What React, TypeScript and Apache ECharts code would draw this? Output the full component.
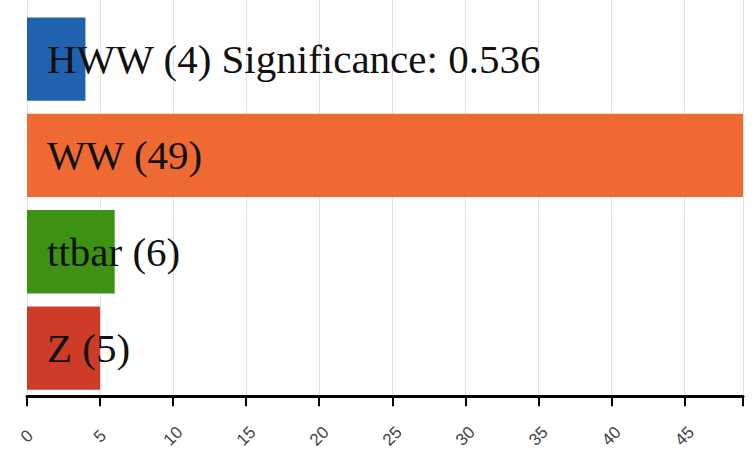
import React, { useEffect, useRef } from "react";
import * as echarts from "echarts";

const categories = ["HWW", "WW", "ttbar", "Z"];
const values = [4, 49, 6, 5];
const colors = ["#2062b0", "#ee6a32", "#3d9214", "#cf3b29"];
const significance = "0.536";
const xTicks = [0, 5, 10, 15, 20, 25, 30, 35, 40, 45];
const xMax = 49;

export default function App() {
  const ref = useRef<HTMLDivElement>(null);
  useEffect(() => {
    if (!ref.current) return;
    const chart = echarts.init(ref.current, null, { renderer: "svg" });
    const labelSet = new Set(xTicks.map(String));
    chart.setOption({
      animation: false,
      grid: [
        { left: 27, right: 10, top: 0, bottom: 54 },
        { left: 27, right: 10, top: 11, bottom: 54 },
      ],
      xAxis: [
        {
          gridIndex: 0,
          type: "value",
          min: 0,
          max: xMax,
          interval: 5,
          axisLine: { show: false },
          axisTick: { show: false },
          axisLabel: { show: false },
          splitLine: { show: true, lineStyle: { color: "#e2e2e2", width: 1 } },
        },
        {
          gridIndex: 1,
          type: "value",
          min: 0,
          max: xMax,
          interval: 5,
          axisLine: { show: true, lineStyle: { color: "#000", width: 3 } },
          axisTick: { show: true, length: 10, lineStyle: { color: "#000", width: 2 } },
          axisLabel: {
            show: true,
            rotate: 45,
            align: "center",
            verticalAlign: "middle",
            margin: 40,
            color: "#444",
            fontSize: 17,
            fontFamily: "Liberation Sans, Arial, sans-serif",
            formatter: (v: number) => (labelSet.has(String(v)) ? String(v) : ""),
          },
          splitLine: { show: false },
        },
      ],
      yAxis: [
        { gridIndex: 0, type: "value", show: false, min: 0, max: 1 },
        {
          gridIndex: 1,
          type: "category",
          data: categories,
          inverse: true,
          show: false,
        },
      ],
      series: [
        {
          type: "bar",
          xAxisIndex: 1,
          yAxisIndex: 1,
          barCategoryGap: "13.5%",
          data: values.map((v, i) => ({ value: v, itemStyle: { color: colors[i] } })),
          label: {
            show: true,
            position: "insideLeft",
            distance: 20,
            color: "#111",
            fontSize: 41,
            fontFamily: "Liberation Serif, Times New Roman, serif",
            formatter: (p: any) =>
              p.dataIndex === 0
                ? `${p.name} (${p.value}) Significance: ${significance}`
                : `${p.name} (${p.value})`,
          },
        },
      ],
    });
    return () => chart.dispose();
  }, []);
  return (
    <div
      ref={ref}
      style={{ position: "fixed", left: 0, top: 0, width: 753, height: 451, background: "#fff" }}
    />
  );
}
